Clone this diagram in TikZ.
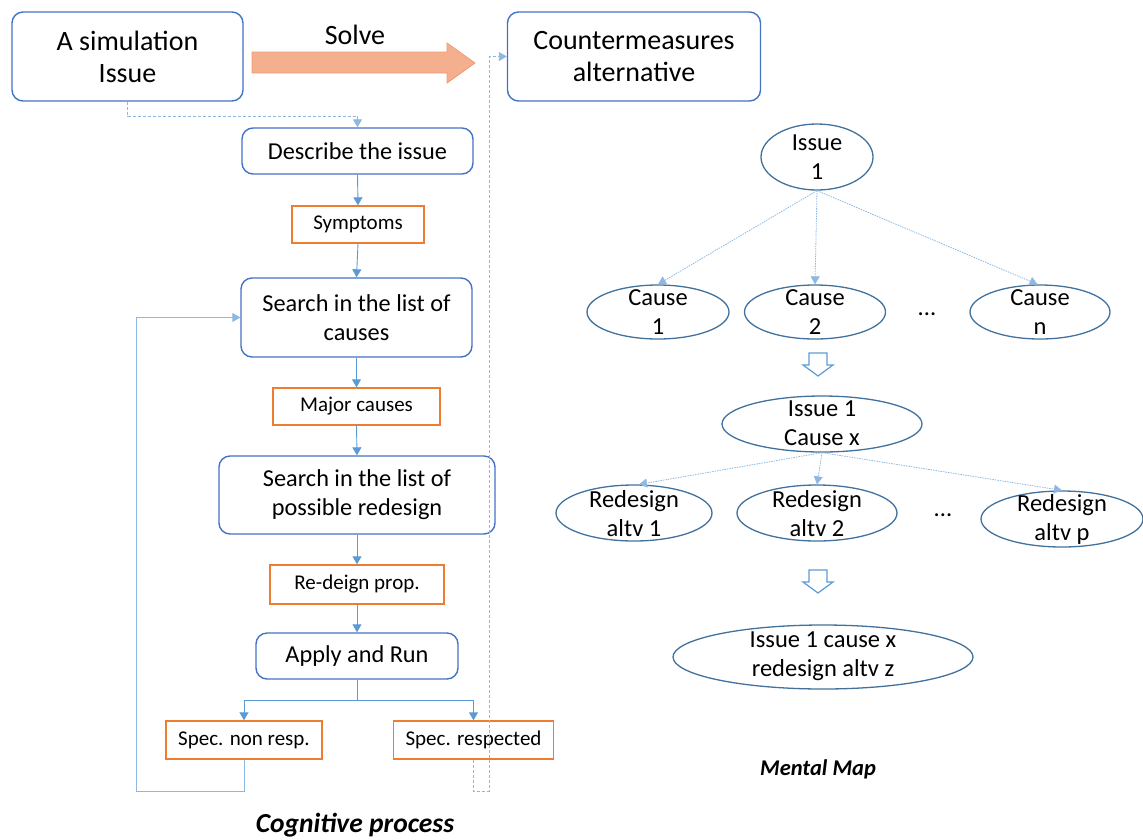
\documentclass[tikz,border=0pt]{standalone}
\usepackage{fontspec}
\setmainfont{Carlito}
\usetikzlibrary{arrows.meta,shapes.geometric}
\definecolor{boxblue}{HTML}{4472C4}
\definecolor{linkblue}{HTML}{5B9BD5}
\definecolor{looplink}{HTML}{8DB8E2}
\definecolor{orng}{HTML}{ED7D31}
\definecolor{ellblue}{HTML}{41719C}
\definecolor{salmonfill}{HTML}{F4B08E}
\definecolor{salmonedge}{HTML}{F19A6E}
\begin{document}
\begin{tikzpicture}[x=1pt,y=-1pt,
  rbox/.style={draw=boxblue,line width=1.4pt,rounded corners=11pt,align=center,inner sep=0pt},
  bigtext/.style={font=\fontsize{28}{32}\selectfont},
  midtext/.style={font=\fontsize{24.3}{29}\selectfont},
  obox/.style={draw=orng,line width=1.4pt,align=center,inner sep=0pt,font=\fontsize{21}{24}\selectfont},
  ellshape/.style={draw=ellblue,line width=1.3pt,ellipse,inner sep=0pt},
  etext/.style={align=center,inner sep=0pt,font=\fontsize{24.5}{29}\selectfont},
  conn/.style={draw=linkblue,line width=0.9pt,-{Triangle[length=8pt,width=9pt]}},
  loopconn/.style={conn,draw=looplink},
  dconn/.style={conn,draw=looplink,dash pattern=on 3pt off 2pt},
  dotconn/.style={conn,draw=looplink,line width=0.8pt,dash pattern=on 1.5pt off 1pt},
  caption/.style={font=\fontsize{27.5}{30}\selectfont\bfseries\itshape},
  smallcaption/.style={font=\fontsize{22.5}{26}\selectfont\bfseries\itshape},
  hollow/.style={draw=linkblue,line width=1.2pt,line join=miter}
]
\useasboundingbox (0,0) rectangle (1143,839);

% ---------- left: cognitive process ----------
\node[rbox,bigtext,minimum width=231,minimum height=89] (b1) at (127.5,56.5) {A simulation\\Issue};
\node[rbox,bigtext,minimum width=253,minimum height=89] (cm) at (634,56.5) {Countermeasures\\alternative};
\node[bigtext] (solve) at (355,35) {Solve};
\fill[salmonfill,draw=salmonedge,line width=0.8pt,line join=miter]
  (252,52) -- (447,52) -- (447,43) -- (475,63) -- (447,83) -- (447,73) -- (252,73) -- cycle;

\node[rbox,midtext,minimum width=231,minimum height=46] (desc) at (357.5,151) {Describe the issue};
\node[obox,minimum width=132,minimum height=37] (sym) at (358,224.5) {Symptoms};
\node[rbox,midtext,minimum width=231,minimum height=79] (s1) at (356.5,317.5) {Search in the list of\\causes};
\node[obox,minimum width=167,minimum height=37] (maj) at (356.5,406.5) {Major causes};
\node[rbox,midtext,minimum width=276,minimum height=78] (s2) at (357,495) {Search in the list of\\possible redesign};
\node[obox,minimum width=174,minimum height=39] (red) at (357,584.5) {Re-deign prop.};
\node[rbox,midtext,minimum width=202,minimum height=46] (ap) at (357,656) {Apply and Run};
\node[obox,minimum width=156,minimum height=38] (snr) at (244,740) {Spec. non resp.};
\node[obox,minimum width=160,minimum height=38] (sr) at (473.5,740) {Spec. respected};

\draw[dconn] (b1.south) -- ++(0,15) -| (desc.north);
\draw[conn] (desc.south) -- (sym.north);
\draw[conn] (sym.south) -- (s1.north);
\draw[conn] (s1.south) -- (maj.north);
\draw[conn] (maj.south) -- (s2.north);
\draw[conn] (s2.south) -- (red.north);
\draw[conn] (red.south) -- (ap.north);
\draw[conn] (ap.south) -- ++(0,21) -| (snr.north);
\draw[conn] (ap.south) -- ++(0,21) -| (sr.north);

\coordinate (lb) at (136,791);
\draw[loopconn] (snr.south) |- (lb) |- (s1.west);
\coordinate (dr) at (489,791);
\draw[dconn] (sr.south) |- (dr) |- (cm.west);

\node[caption] (cap1) at (355,825) {Cognitive process};

% ---------- right: mental map ----------
\node[ellshape,minimum width=112,minimum height=66] (i1) at (817,157) {};
\node[etext] (i1t) at (817,157.5) {Issue\\1};
\node[ellshape,minimum width=142,minimum height=54] (c1) at (658,312) {};
\node[etext] (c1t) at (658,312.5) {Cause\\1};
\node[ellshape,minimum width=141,minimum height=54] (c2) at (815,312) {};
\node[etext] (c2t) at (815,312.5) {Cause\\2};
\node[ellshape,minimum width=140,minimum height=54] (cn) at (1040,312) {};
\node[etext] (cnt) at (1040,312.5) {Cause\\n};
\node[etext] (dots1) at (927,314) {...};

\draw[dotconn] (i1.south) -- (c1.north);
\draw[dotconn] (i1.south) -- (c2.north);
\draw[dotconn] (i1.south) -- (cn.95);

\draw[hollow] (809,353) -- (827,353) -- (827,365) -- (833,365) -- (818,376) -- (803,365) -- (809,365) -- cycle;

\node[ellshape,minimum width=200,minimum height=56] (ix) at (822,424) {};
\node[etext] (ixt) at (822,423.5) {Issue 1\\Cause x};
\node[ellshape,minimum width=156,minimum height=56] (r1) at (634,513) {};
\node[etext] (r1t) at (634,513.5) {Redesign\\altv 1};
\node[ellshape,minimum width=160,minimum height=56] (r2) at (817,513) {};
\node[etext] (r2t) at (817,513.5) {Redesign\\altv 2};
\node[ellshape,minimum width=162,minimum height=56] (rp) at (1062,519) {};
\node[etext] (rpt) at (1062,519.5) {Redesign\\altv p};
\node[etext] (dots2) at (943,515) {...};

\draw[dotconn] (ix.south) -- (r1.80);
\draw[dotconn] (ix.south) -- (r2.north);
\draw[dotconn] (ix.south) -- (rp.north);

\draw[hollow] (809,570) -- (827,570) -- (827,582) -- (833,582) -- (818,593) -- (803,582) -- (809,582) -- cycle;

\node[ellshape,minimum width=300,minimum height=64] (fz) at (823,657) {};
\node[etext] (fzt) at (823,656) {Issue 1 cause x\\redesign altv z};

\node[smallcaption] (cap2) at (818,769) {Mental Map};
\end{tikzpicture}
\end{document}
